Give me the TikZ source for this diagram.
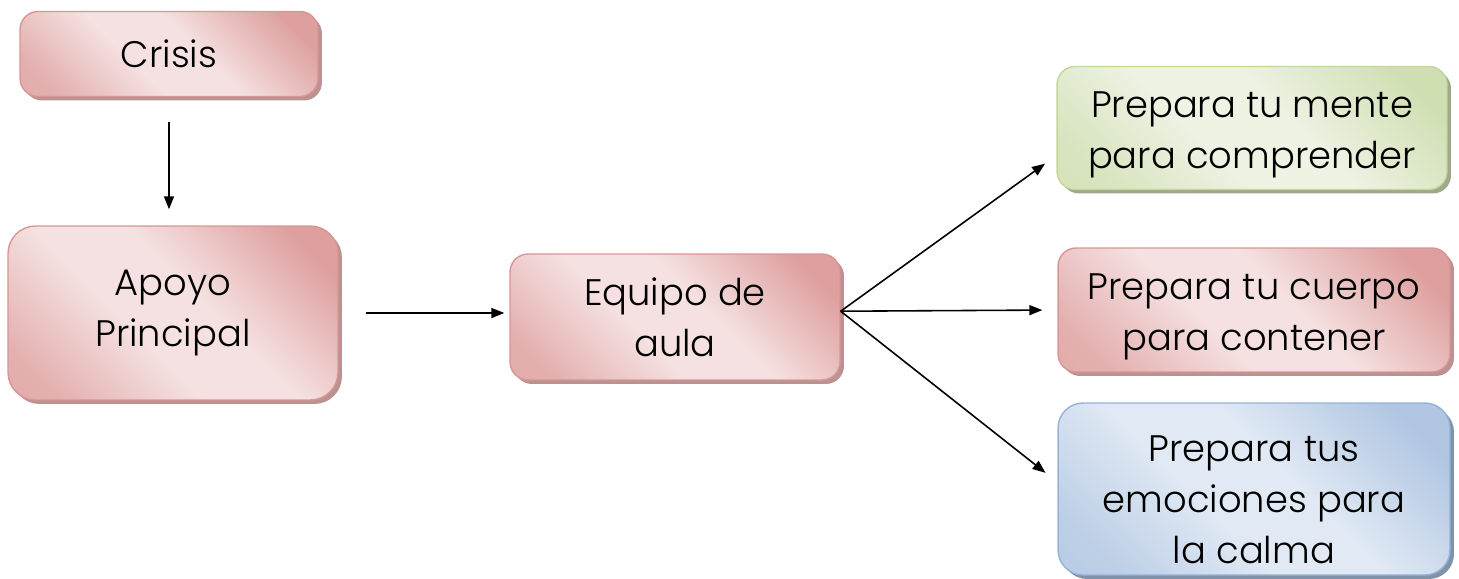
\documentclass[tikz,border=0pt]{standalone}
\usepackage{fontspec}
\setmainfont{Poppins Light}
\usetikzlibrary{arrows.meta,shadows}

\definecolor{redlite}{RGB}{245,225,225}
\definecolor{reddark}{RGB}{222,160,159}
\definecolor{redline}{RGB}{217,150,148}
\definecolor{redshade}{RGB}{186,146,146}
\definecolor{greenlite}{RGB}{238,243,228}
\definecolor{greendark}{RGB}{208,223,178}
\definecolor{greenline}{RGB}{195,214,155}
\definecolor{greenshade}{RGB}{160,168,140}
\definecolor{bluelite}{RGB}{224,233,244}
\definecolor{bluedark}{RGB}{176,198,226}
\definecolor{blueline}{RGB}{149,179,215}
\definecolor{blueshade}{RGB}{128,146,170}
\colorlet{boxdark}{reddark}
\colorlet{boxlite}{redlite}

% light in the middle, darker towards two corners
\pgfdeclarehorizontalshading[boxdark,boxlite]{boxfill}{100bp}{
  color(0bp)=(boxdark); color(22bp)=(boxdark!75!boxlite); color(42bp)=(boxlite);
  color(56bp)=(boxlite); color(78bp)=(boxdark); color(100bp)=(boxdark)}

\tikzset{
  box/.style={rounded corners=0.36cm, line width=0.8pt, align=center,
    font=\fontsize{21}{29}\selectfont, inner sep=0pt,
    shade, shading=boxfill, shading angle=45},
  redbox/.style={box, draw=redline,
    /utils/exec={\colorlet{boxdark}{reddark}\colorlet{boxlite}{redlite}},
    drop shadow={fill=redshade, opacity=1, shadow xshift=0.08cm, shadow yshift=-0.08cm}},
  greenbox/.style={box, draw=greenline,
    /utils/exec={\colorlet{boxdark}{greendark}\colorlet{boxlite}{greenlite}},
    drop shadow={fill=greenshade, opacity=1, shadow xshift=0.08cm, shadow yshift=-0.08cm}},
  bluebox/.style={box, draw=blueline,
    /utils/exec={\colorlet{boxdark}{bluedark}\colorlet{boxlite}{bluelite}},
    drop shadow={fill=blueshade, opacity=1, shadow xshift=0.08cm, shadow yshift=-0.08cm}},
  link/.style={line width=0.9pt, -{Triangle[length=0.26cm,width=0.2cm]}}
}

\begin{document}
\begin{tikzpicture}[x=0.02cm,y=-0.02cm]
  \useasboundingbox (0,0) rectangle (1459,578);

  \node[redbox, minimum width=5.96cm, minimum height=1.7cm] (crisis) at (169,54) {Crisis};
  \node[redbox, minimum width=6.6cm, minimum height=3.48cm, rounded corners=0.55cm] (apoyo) at (173,313) {Apoyo\\Principal};
  \node[redbox, minimum width=6.6cm, minimum height=2.52cm] (equipo) at (675,317) {Equipo de\\aula};

  \node[greenbox, minimum width=7.8cm, minimum height=2.46cm] (mente) at (1252,128) {\rule{0pt}{22pt}Prepara tu mente\\para comprender};
  \node[redbox, minimum width=7.84cm, minimum height=2.48cm] (cuerpo) at (1254,310) {\rule{0pt}{22pt}Prepara tu cuerpo\\para contener};
  \node[bluebox, minimum width=7.84cm, minimum height=3.44cm, rounded corners=0.5cm] (calma) at (1254,489) {\rule{0pt}{27pt}Prepara tus\\emociones para\\la calma};

  \draw[link, shorten <=0.5cm, shorten >=0.32cm] (crisis) -- (crisis |- apoyo.north);
  \draw[link, shorten <=0.54cm, shorten >=0.1cm] (apoyo) -- (apoyo -| equipo.west);
  \draw[link, shorten >=0.28cm] (equipo.2.5) -- (mente.188);
  \draw[link, shorten >=0.3cm] (equipo.2.5) -- (cuerpo.west);
  \draw[link, shorten >=0.3cm] (equipo.2.5) -- (calma.178);
\end{tikzpicture}
\end{document}
